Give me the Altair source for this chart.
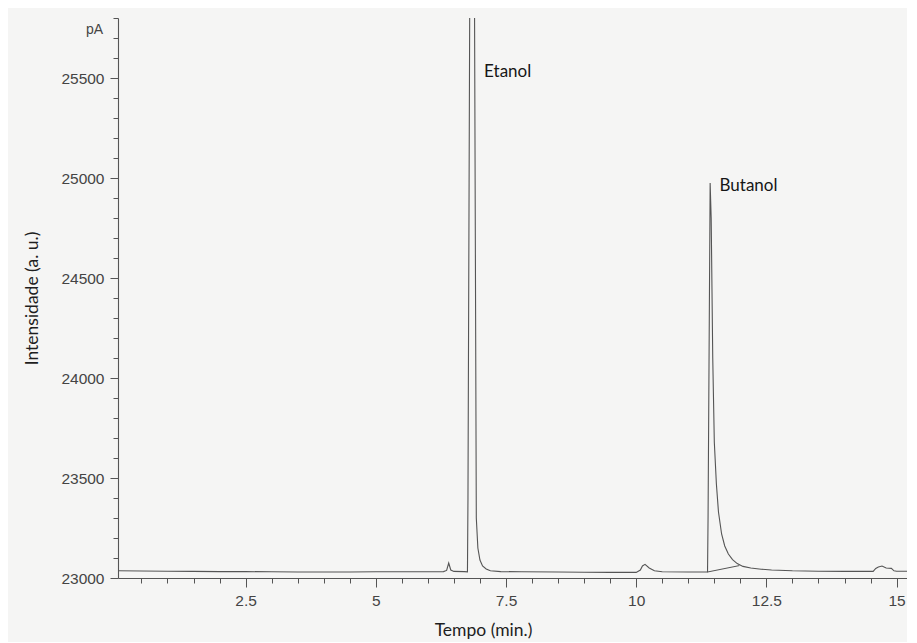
import altair as alt
import pandas as pd

# ---- chromatogram trace (time in min, signal in pA) ----
time_min = [0.05, 0.5, 1.0, 1.5, 2.0, 2.5, 3.0, 3.5, 4.0, 4.5, 5.0, 5.5, 6.0,
            6.3, 6.36, 6.40, 6.44, 6.5, 6.7, 6.76, 6.77, 6.83, 6.87, 6.93, 6.96,
            7.0, 7.05, 7.12, 7.2, 7.4, 7.8, 8.5, 9.0, 9.5, 10.0, 10.08, 10.12,
            10.17, 10.25, 10.35, 10.5, 11.0, 11.37, 11.38, 11.42, 11.44, 11.47,
            11.50, 11.54, 11.58, 11.64, 11.70, 11.77, 11.85, 11.94, 12.05, 12.2, 12.4,
            12.6, 13.0, 13.5, 14.0, 14.55, 14.6, 14.65, 14.72, 14.8, 14.9,
            14.95, 15.0, 15.2]
signal_pA = [23036, 23035, 23034, 23033, 23032, 23032, 23031, 23030, 23030, 23030, 23031, 23031, 23031,
             23032, 23038, 23075, 23040, 23033, 23032, 23031, 23400, 27800, 27800, 23300, 23150,
             23090, 23060, 23045, 23036, 23032, 23031, 23030, 23029, 23028, 23028, 23040, 23060,
             23068, 23050, 23036, 23031, 23030, 23030, 23300, 24975, 24800, 24100,
             23680, 23470, 23330, 23220, 23160, 23120, 23092, 23072, 23058, 23050, 23044,
             23040, 23036, 23034, 23033, 23033, 23048, 23055, 23060, 23050, 23048,
             23036, 23034, 23034]

# integration baseline drawn under the butanol peak
base_time = [11.37, 11.98]
base_signal = [23030, 23062]

# peak labels
peak_names = ["Etanol", "Butanol"]
peak_time = [7.08, 11.6]
peak_signal = [25530, 24960]

x_major = [2.5, 5, 7.5, 10, 12.5, 15]
x_minor = [0.5, 1.0, 1.5, 2.0, 3.0, 3.5, 4.0, 4.5, 5.5, 6.0, 6.5, 7.0, 8.0, 8.5, 9.0,
           9.5, 10.5, 11.0, 11.5, 12.0, 13.0, 13.5, 14.0, 14.5]
y_major = [23000, 23500, 24000, 24500, 25000, 25500]
y_minor = [23100, 23200, 23300, 23400, 23600, 23700, 23800, 23900, 24100, 24200,
           24300, 24400, 24600, 24700, 24800, 24900, 25100, 25200, 25300, 25400,
           25600, 25700, 25800]

trace = pd.DataFrame({"t": time_min, "s": signal_pA})
base = pd.DataFrame({"t": base_time, "s": base_signal})
labels = pd.DataFrame({"name": peak_names, "t": peak_time, "s": peak_signal})
unit = pd.DataFrame({"name": ["pA"], "t": [0.05], "s": [25740]})

xscale = alt.Scale(domain=[0.05, 15.2], nice=False, zero=False)
yscale = alt.Scale(domain=[23000, 25800], nice=False, zero=False)

LINE = "#555555"
AX = "#555555"
LAB = "#444444"

main = alt.Chart(trace).mark_line(color=LINE, strokeWidth=1.1, clip=True).encode(
    x=alt.X("t:Q", scale=xscale,
            axis=alt.Axis(values=x_major, format=".4~g", tickSize=9, orient="bottom",
                          title="Tempo (min.)", titleX=365, titleY=52,
                          titleBaseline="middle", titleAlign="center")),
    y=alt.Y("s:Q", scale=yscale,
            axis=alt.Axis(values=y_major, format="d", tickSize=8, orient="left",
                          title="Intensidade (a. u.)", titlePadding=19)),
)

minor = alt.Chart(base).mark_line(color=LINE, strokeWidth=1.0, clip=True).encode(
    x=alt.X("t:Q", scale=xscale,
            axis=alt.Axis(values=x_minor, labels=False, tickSize=5, domain=False,
                          orient="bottom", title=None)),
    y=alt.Y("s:Q", scale=yscale,
            axis=alt.Axis(values=y_minor, labels=False, tickSize=5, domain=False,
                          orient="left", title=None)),
)

txt = alt.Chart(labels).mark_text(align="left", baseline="middle", font="Lato",
                                  fontSize=17, color="#161616").encode(
    x=alt.X("t:Q", scale=xscale, axis=None),
    y=alt.Y("s:Q", scale=yscale, axis=None),
    text="name:N",
)

pa = alt.Chart(unit).mark_text(align="right", baseline="middle", dx=-15,
                               font="Liberation Sans", fontSize=14, color=LAB).encode(
    x=alt.X("t:Q", scale=xscale, axis=None),
    y=alt.Y("s:Q", scale=yscale, axis=None),
    text="name:N",
)

chart = alt.layer(main, minor, txt, pa).resolve_axis(x="independent", y="independent").properties(
    width=789, height=560,
    autosize=alt.AutoSizeParams(type="none"),
    padding={"left": 110, "top": 10, "right": 0, "bottom": 64},
    background="#f5f5f4",
).configure_view(stroke=None).configure_axis(
    domainColor=AX, tickColor=AX, domainWidth=1.1, tickWidth=1,
    labelFont="Liberation Sans", labelFontSize=15.5, labelColor=LAB, labelPadding=6,
    titleFont="Lato", titleFontSize=17.5, titleColor="#1e1e1e", titleFontWeight="normal",
    grid=False,
)

chart.save("out.html", embed_options={"renderer": "svg", "actions": False})
